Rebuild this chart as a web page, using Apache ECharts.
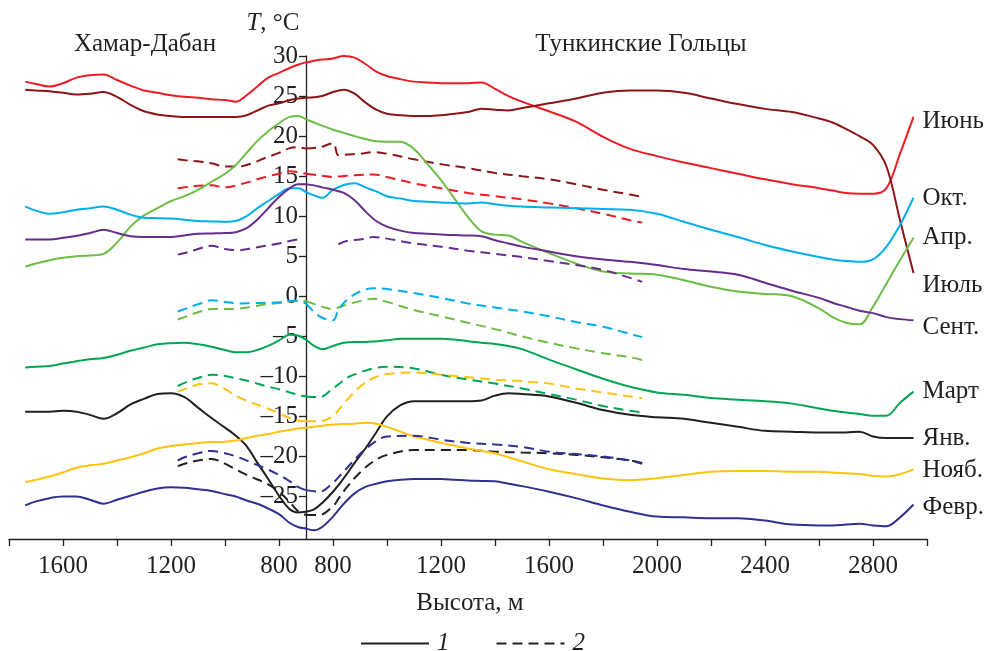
<!DOCTYPE html>
<html>
<head>
<meta charset="utf-8">
<script src="https://cdn.jsdelivr.net/npm/echarts@6/dist/echarts.min.js"></script>
<style>
  html, body { margin: 0; padding: 0; background: #fff; }
  #chart { width: 989px; height: 651px; }
</style>
</head>
<body>
<div id="chart"></div>
<script>
// высоты, м: Хамар-Дабан (слева) и Тункинские Гольцы (справа)
const altLeft = [1740, 1700, 1650, 1600, 1550, 1500, 1450, 1400, 1350, 1300, 1250, 1200, 1150, 1100, 1050, 1000, 960, 920, 880, 840, 800, 760, 730, 700];
const altRight = [700, 730, 760, 800, 840, 880, 920, 960, 1000, 1050, 1100, 1150, 1200, 1250, 1300, 1350, 1400, 1450, 1500, 1600, 1700, 1800, 1900, 2000, 2100, 2200, 2300, 2400, 2500, 2600, 2650, 2700, 2750, 2800, 2850, 2900, 2950];
const altDashLeft = [1175, 1150, 1100, 1050, 1000, 950, 900, 850, 800, 760, 730, 700];
const altDashRight = [700, 750, 800, 820, 850, 900, 950, 1000, 1100, 1200, 1300, 1400, 1500, 1600, 1700, 1800, 1900, 1945];

// температура, °C — сплошные линии (1)
const tJunL = [26.8, 26.5, 26.2, 26.6, 27.3, 27.6, 27.7, 27.0, 26.3, 25.7, 25.4, 25.1, 24.9, 24.8, 24.6, 24.5, 24.3, 25.1, 26.2, 27.3, 27.9, 28.5, 28.9, 29.2];
const tJunR = [29.2, 29.4, 29.55, 29.7, 30.0, 29.8, 29.0, 28.05, 27.5, 27.1, 26.8, 26.7, 26.6, 26.6, 26.6, 26.7, 25.9, 25.0, 24.3, 23.1, 21.8, 19.9, 18.4, 17.5, 16.7, 16.0, 15.3, 14.6, 14.0, 13.5, 13.2, 12.9, 12.8, 12.8, 13.5, 17.8, 22.4];
const tJulL = [25.8, 25.7, 25.6, 25.4, 25.2, 25.3, 25.5, 24.9, 23.9, 23.1, 22.7, 22.5, 22.4, 22.4, 22.4, 22.4, 22.4, 22.6, 23.2, 23.8, 24.1, 24.5, 24.7, 24.8];
const tJulR = [24.8, 24.85, 25.0, 25.5, 25.8, 25.3, 24.2, 23.3, 22.8, 22.6, 22.5, 22.5, 22.6, 22.8, 23.0, 23.4, 23.3, 23.2, 23.5, 24.1, 24.7, 25.4, 25.7, 25.7, 25.4, 24.7, 24.0, 23.4, 23.0, 22.2, 21.7, 20.9, 20.0, 18.9, 16.2, 9.5, 2.9];
const tAprL = [3.7, 4.1, 4.5, 4.8, 5.0, 5.1, 5.3, 6.7, 8.7, 10.1, 11.0, 11.9, 12.5, 13.3, 14.3, 15.3, 16.4, 17.9, 19.4, 20.6, 21.6, 22.4, 22.5, 22.1];
const tAprR = [22.1, 21.7, 21.3, 20.8, 20.4, 20.0, 19.65, 19.35, 19.3, 19.3, 18.4, 16.5, 14.5, 12.2, 9.9, 8.1, 7.7, 7.6, 6.8, 5.4, 4.1, 3.1, 2.85, 2.7, 2.0, 1.2, 0.6, 0.3, 0.0, -1.5, -2.6, -3.3, -3.5, -1.3, 1.6, 4.5, 7.3];
const tOctL = [11.2, 10.7, 10.3, 10.5, 10.8, 11.0, 11.2, 10.8, 10.2, 9.8, 9.75, 9.7, 9.55, 9.4, 9.35, 9.3, 9.4, 10.0, 11.0, 11.9, 12.8, 13.5, 13.5, 13.0];
const tOctR = [13.0, 12.6, 12.3, 13.3, 13.9, 14.1, 13.6, 13.1, 12.5, 12.2, 11.9, 11.8, 11.7, 11.65, 11.6, 11.7, 11.5, 11.3, 11.2, 11.1, 11.0, 10.9, 10.8, 10.3, 9.3, 8.3, 7.4, 6.4, 5.6, 4.9, 4.6, 4.4, 4.3, 4.6, 6.2, 8.9, 12.3];
const tSepL = [7.1, 7.1, 7.1, 7.3, 7.55, 7.9, 8.3, 7.9, 7.5, 7.4, 7.4, 7.4, 7.6, 7.8, 7.85, 7.9, 8.0, 8.5, 9.6, 11.0, 12.4, 13.5, 14.0, 14.0];
const tSepR = [14.0, 13.85, 13.6, 13.3, 12.9, 12.0, 10.6, 9.4, 8.7, 8.2, 7.9, 7.8, 7.7, 7.65, 7.6, 7.5, 7.0, 6.6, 6.2, 5.6, 5.0, 4.6, 4.3, 3.9, 3.4, 3.1, 2.7, 1.7, 0.7, -0.2, -0.8, -1.3, -1.8, -2.1, -2.6, -2.85, -3.0];
const tMarL = [-8.9, -8.8, -8.7, -8.4, -8.1, -7.85, -7.7, -7.3, -6.8, -6.4, -6.0, -5.85, -5.8, -6.0, -6.3, -6.7, -7.0, -7.0, -6.7, -6.2, -5.5, -4.8, -4.9, -5.4];
const tMarR = [-5.4, -6.2, -6.6, -6.2, -5.8, -5.7, -5.7, -5.6, -5.5, -5.3, -5.3, -5.3, -5.3, -5.4, -5.6, -5.8, -5.95, -6.2, -6.6, -7.9, -9.1, -10.3, -11.3, -12.0, -12.3, -12.7, -12.9, -13.1, -13.4, -14.0, -14.3, -14.5, -14.7, -14.9, -14.9, -13.3, -11.9];
const tJanL = [-14.4, -14.4, -14.4, -14.3, -14.4, -14.8, -15.3, -14.6, -13.5, -12.8, -12.2, -12.1, -12.6, -13.9, -15.2, -16.4, -17.4, -18.7, -20.8, -22.8, -24.9, -26.6, -27.0, -26.9];
const tJanR = [-26.9, -26.6, -25.8, -24.4, -22.7, -20.8, -19.0, -17.0, -15.0, -13.6, -13.1, -13.1, -13.1, -13.1, -13.1, -13.0, -12.4, -12.1, -12.2, -12.5, -13.3, -14.2, -14.8, -15.1, -15.3, -15.8, -16.3, -16.8, -16.9, -17.0, -17.0, -17.0, -16.9, -17.5, -17.7, -17.7, -17.7];
const tNovL = [-23.2, -22.9, -22.5, -22.0, -21.4, -21.1, -20.9, -20.5, -20.1, -19.6, -19.0, -18.7, -18.5, -18.3, -18.2, -18.15, -18.0, -17.7, -17.4, -17.2, -16.9, -16.7, -16.5, -16.4];
const tNovR = [-16.4, -16.3, -16.15, -16.0, -15.95, -15.9, -15.8, -15.9, -16.3, -16.9, -17.5, -17.9, -18.3, -18.65, -19.0, -19.3, -19.6, -20.1, -20.6, -21.6, -22.2, -22.75, -22.95, -22.7, -22.3, -21.9, -21.8, -21.8, -21.9, -21.9, -22.0, -22.1, -22.2, -22.4, -22.5, -22.2, -21.6];
const tFebL = [-26.1, -25.6, -25.2, -25.0, -25.0, -25.4, -25.9, -25.4, -24.9, -24.4, -24.0, -23.85, -23.9, -24.1, -24.3, -24.7, -25.0, -25.5, -25.9, -26.5, -27.2, -28.3, -28.8, -29.0];
const tFebR = [-29.0, -29.2, -28.8, -27.5, -25.9, -24.6, -23.8, -23.4, -23.1, -22.9, -22.8, -22.8, -22.8, -22.9, -23.0, -23.05, -23.1, -23.4, -23.7, -24.4, -25.2, -26.1, -26.9, -27.5, -27.6, -27.7, -27.7, -28.0, -28.5, -28.6, -28.6, -28.5, -28.4, -28.6, -28.7, -27.6, -26.0];

// температура, °C — пунктир (2)
const dJulL = [17.1, 17.0, 16.85, 16.6, 16.2, 16.2, 16.6, 17.3, 17.9, 18.5, 18.6, 18.45];
const dJulR = [18.45, 18.6, 19.1, 17.6, 17.7, 17.8, 18.0, 17.8, 17.1, 16.5, 16.0, 15.4, 15.0, 14.6, 14.0, 13.3, 12.7, 12.4];
const dJunL = [13.5, 13.6, 13.8, 13.85, 13.6, 13.9, 14.4, 14.9, 15.3, 15.6, 15.5, 15.3];
const dJunR = [15.3, 15.1, 14.9, 14.95, 15.05, 15.15, 15.2, 14.9, 14.1, 13.5, 12.9, 12.5, 12.1, 11.6, 11.0, 10.3, 9.5, 9.2];
const dSepL = [5.2, 5.4, 5.9, 6.3, 5.9, 5.75, 6.0, 6.3, 6.6, 6.9, 7.1, null];
const dSepR = [null, null, null, 6.5, 6.9, 7.1, 7.4, 7.2, 6.6, 6.2, 5.7, 5.3, 4.9, 4.4, 3.9, 3.3, 2.3, 1.8];
const dOctL = [-1.9, -1.6, -1.0, -0.5, -0.7, -0.9, -0.85, -0.8, -0.75, -0.6, -0.6, -0.9];
const dOctR = [-0.9, -2.5, -3.0, -1.7, -0.5, 0.6, 1.0, 0.9, 0.4, -0.2, -0.9, -1.4, -1.9, -2.5, -3.2, -3.8, -4.7, -5.1];
const dAprL = [-2.9, -2.6, -2.0, -1.6, -1.6, -1.55, -1.3, -1.0, -0.85, -0.65, -0.5, -0.6];
const dAprR = [-0.6, -1.2, -1.6, -1.4, -1.05, -0.6, -0.3, -0.7, -1.7, -2.5, -3.3, -4.1, -5.0, -5.8, -6.5, -7.1, -7.6, -7.95];
const dMarL = [-11.2, -10.8, -10.2, -9.8, -9.95, -10.3, -10.7, -11.2, -11.6, -12.0, -12.3, -12.5];
const dMarR = [-12.5, -12.6, -11.5, -11.0, -10.2, -9.5, -9.0, -8.8, -9.0, -9.8, -10.4, -10.9, -11.5, -12.2, -12.9, -13.7, -14.3, -14.5];
const dNovL = [-11.9, -11.6, -11.0, -10.85, -11.6, -12.6, -13.3, -13.9, -14.6, -15.2, -15.5, -15.6];
const dNovR = [-15.6, -15.6, -15.0, -14.2, -13.0, -11.3, -10.2, -9.7, -9.5, -9.8, -10.1, -10.4, -10.6, -10.9, -11.5, -12.0, -12.5, -12.7];
const dFebL = [-20.5, -20.1, -19.6, -19.3, -19.6, -20.1, -20.8, -21.5, -22.3, -23.1, -23.8, -24.2];
const dFebR = [-24.2, -24.4, -23.3, -22.6, -21.5, -19.7, -18.3, -17.5, -17.4, -17.9, -18.3, -18.5, -18.8, -19.4, -19.7, -20.0, -20.5, -20.9];
const dJanL = [-21.2, -20.9, -20.5, -20.3, -20.9, -21.8, -22.6, -23.3, -24.4, -25.7, -26.8, -27.3];
const dJanR = [-27.3, -27.3, -26.2, -25.3, -23.9, -22.0, -20.6, -19.8, -19.2, -19.2, -19.2, -19.4, -19.5, -19.6, -19.8, -20.1, -20.5, -20.8];

// подписи осей
const ticksLeft = [800, 1000, 1200, 1400, 1600, 1800];
const labelsLeft = [800, 1200, 1600];
const ticksRight = [800, 1000, 1200, 1400, 1600, 1800, 2000, 2200, 2400, 2600, 2800, 3000];
const labelsRight = [800, 1200, 1600, 2000, 2400, 2800];
const ticksT = [-25, -20, -15, -10, -5, 0, 5, 10, 15, 20, 25, 30];

const FONT = 'Liberation Serif';
const FS = 25;
const INK = '#231f20';

// месяц, цвет, данные, сдвиг подписи справа
const months = [
  ['Июнь', '#ed1c24', tJunL, tJunR, dJunL, dJunR, 5],
  ['Июль', '#8c1515', tJulL, tJulR, dJulL, dJulR, 12],
  ['Апр.', '#6cbd45', tAprL, tAprR, dAprL, dAprR, 0],
  ['Окт.', '#00aeef', tOctL, tOctR, dOctL, dOctR, 1],
  ['Сент.', '#662d8c', tSepL, tSepR, dSepL, dSepR, 7],
  ['Март', '#00a651', tMarL, tMarR, dMarL, dMarR, 0],
  ['Янв.', INK, tJanL, tJanR, dJanL, dJanR, 0],
  ['Нояб.', '#ffc20e', tNovL, tNovR, dNovL, dNovR, 1],
  ['Февр.', '#2e3192', tFebL, tFebR, dFebL, dFebR, 3]
];

function pairs(alts, temps) {
  return alts.map((a, i) => [a, temps[i]]);
}

function line(name, color, data, grid, dashed, labelDy) {
  let s = {
    name: name,
    type: 'line',
    xAxisIndex: grid,
    yAxisIndex: grid,
    data: data,
    smooth: 0.35,
    symbol: 'none',
    silent: true,
    lineStyle: { color: color, width: 2, type: dashed ? [10, 6] : 'solid' },
    itemStyle: { color: color }
  };
  if (labelDy !== undefined) {
    s.endLabel = {
      show: true,
      formatter: name,
      distance: 9,
      offset: [0, labelDy],
      fontFamily: FONT,
      fontSize: FS,
      color: INK
    };
  }
  return s;
}

let series = [];
months.forEach(m => {
  series.push(line(m[0] + ' ', m[1], pairs(altLeft, m[2]), 0, false));
  series.push(line(m[0], m[1], pairs(altRight, m[3]), 1, false, m[6]));
  series.push(line(m[0] + ' 2', m[1], pairs(altDashLeft, m[4]), 0, true));
  series.push(line(m[0] + ' 2 ', m[1], pairs(altDashRight, m[5]), 1, true));
});
// пустые серии только для легенды
series.push({ name: '1', type: 'line', xAxisIndex: 1, yAxisIndex: 1, data: [], symbol: 'none',
  lineStyle: { color: INK, width: 2 }, itemStyle: { color: INK, opacity: 0 } });
series.push({ name: '2', type: 'line', xAxisIndex: 1, yAxisIndex: 1, data: [], symbol: 'none',
  lineStyle: { color: INK, width: 2, type: [10, 6] }, itemStyle: { color: INK, opacity: 0 } });

const axisLine = { show: true, onZero: false, lineStyle: { color: INK, width: 1.3 } };
const labelFont = { fontFamily: FONT, fontSize: FS, color: INK };
const tickStyle = { color: INK, width: 1.3 };

let myChart = echarts.init(document.getElementById('chart'));
let option = {
  animation: false,
  backgroundColor: '#fff',
  grid: [
    { left: 9, top: 56, width: 297, height: 483 },
    { left: 306, top: 56, width: 621, height: 483 }
  ],
  xAxis: [
    {
      gridIndex: 0, type: 'value', min: 700, max: 1800, inverse: true,
      axisLine: axisLine,
      axisTick: { show: true, customValues: ticksLeft, length: 7, lineStyle: tickStyle },
      axisLabel: Object.assign({ customValues: labelsLeft, margin: 15, formatter: v => String(v) }, labelFont),
      splitLine: { show: false }
    },
    {
      gridIndex: 1, type: 'value', min: 700, max: 3000,
      axisLine: axisLine,
      axisTick: { show: true, customValues: ticksRight, length: 7, lineStyle: tickStyle },
      axisLabel: Object.assign({ customValues: labelsRight, margin: 15, formatter: v => String(v) }, labelFont),
      splitLine: { show: false }
    }
  ],
  yAxis: [
    { gridIndex: 0, type: 'value', min: -30.3, max: 30, show: false, splitLine: { show: false } },
    {
      gridIndex: 1, type: 'value', min: -30.3, max: 30, position: 'left',
      axisLine: axisLine,
      axisTick: { show: true, customValues: ticksT, length: 7, lineStyle: tickStyle },
      axisLabel: Object.assign({
        customValues: ticksT, margin: 8,
        formatter: v => (v < 0 ? '\u2013' + (-v) : String(v))
      }, labelFont),
      splitLine: { show: false }
    }
  ],
  legend: {
    data: ['1', '2'],
    left: 355,
    top: 626,
    itemWidth: 68,
    itemHeight: 16,
    itemGap: 46,
    selectedMode: false,
    itemStyle: { opacity: 0 },
    textStyle: { fontFamily: FONT, fontSize: FS, fontStyle: 'italic', color: INK, padding: [0, 0, 0, 3] }
  },
  graphic: [
    { type: 'text', x: 145, y: 44, silent: true,
      style: { text: 'Хамар-Дабан', fontFamily: FONT, fontSize: FS, fill: INK,
        align: 'center', verticalAlign: 'middle', textAlign: 'center', textVerticalAlign: 'middle' } },
    { type: 'text', x: 641, y: 44, silent: true,
      style: { text: 'Тункинские Гольцы', fontFamily: FONT, fontSize: FS, fill: INK,
        align: 'center', verticalAlign: 'middle', textAlign: 'center', textVerticalAlign: 'middle' } },
    { type: 'text', x: 273, y: 23, silent: true,
      style: { text: '{i|T}, °C', fontFamily: FONT, fontSize: FS, fill: INK,
        rich: { i: { fontFamily: FONT, fontSize: FS, fontStyle: 'italic', color: INK } },
        align: 'center', verticalAlign: 'middle', textAlign: 'center', textVerticalAlign: 'middle' } },
    { type: 'text', x: 470, y: 603, silent: true,
      style: { text: 'Высота, м', fontFamily: FONT, fontSize: FS, fill: INK,
        align: 'center', verticalAlign: 'middle', textAlign: 'center', textVerticalAlign: 'middle' } }
  ],
  series: series
};
myChart.setOption(option);
</script>
</body>
</html>
